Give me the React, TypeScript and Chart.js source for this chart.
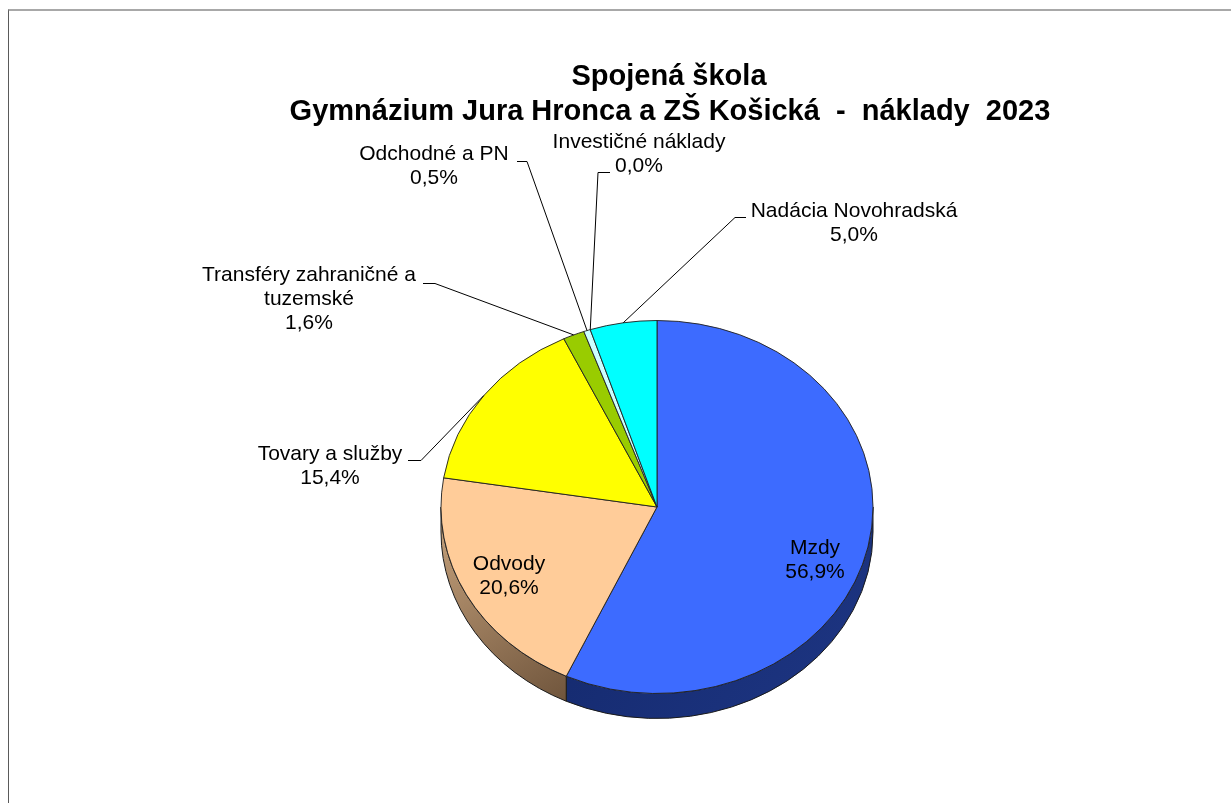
import React, { useEffect, useRef } from 'react';
import { Chart, registerables } from 'chart.js';

Chart.register(...registerables);

// ---------- data ----------
const titleLines = ['Spojená škola', 'Gymnázium Jura Hronca a ZŠ Košická  -  náklady  2023'];
const categories = [
  'Mzdy',
  'Odvody',
  'Tovary a služby',
  'Transféry zahraničné a tuzemské',
  'Odchodné a PN',
  'Investičné náklady',
  'Nadácia Novohradská',
];
const shares = [56.9, 20.6, 15.4, 1.6, 0.5, 0.0, 5.0];
const labelTextLines = [
  ['Mzdy'],
  ['Odvody'],
  ['Tovary a služby'],
  ['Transféry zahraničné a', 'tuzemské'],
  ['Odchodné a PN'],
  ['Investičné náklady'],
  ['Nadácia Novohradská'],
];

// ---------- styles / layout ----------
const topColors = ['#3D6BFF', '#FFCC99', '#FFFF00', '#99CC00', '#CCFFFF', '#FF8040', '#00FFFF'];
const sideColors = [
  ['#13286B', '#1E3684'],
  ['#C8A47E', '#6A5038'],
  ['#B3B300', '#B3B300'],
  ['#6B8F00', '#6B8F00'],
  ['#8FB3B3', '#8FB3B3'],
  ['#B35A2D', '#B35A2D'],
  ['#00B3B3', '#00B3B3'],
];
const TILT = 0.8634; // vertical squash of the pie face
const DEPTH = 25; // thickness of the pie
const LABEL_FONT = '21px "Liberation Sans", Arial, sans-serif';
const TITLE_FONT = 'bold 29px "Liberation Sans", Arial, sans-serif';
const LINE_H = 24;
// label placement: centre x, first baseline, leader stub [x1, x2, y], joint end of stub
type LabelPos = { cx: number; y: number; stub?: [number, number, number]; joint?: 'left' | 'right' };
const labelPos: LabelPos[] = [
  { cx: 815, y: 554 },
  { cx: 509, y: 570 },
  { cx: 330, y: 460, stub: [408, 421, 460], joint: 'right' },
  { cx: 309, y: 281, stub: [423, 435, 283], joint: 'right' },
  { cx: 434, y: 160, stub: [517, 527, 161], joint: 'right' },
  { cx: 639, y: 148, stub: [598, 610, 172], joint: 'left' },
  { cx: 854, y: 217, stub: [735, 746, 217], joint: 'left' },
];

const fmtPct = (v: number) => v.toFixed(1).replace('.', ',') + '%';

const pie3d = {
  id: 'pie3d',
  beforeDatasetsDraw(chart: any) {
    const ctx = chart.ctx as CanvasRenderingContext2D;
    const meta = chart.getDatasetMeta(0);
    const arcs = meta.data as any[];
    if (!arcs.length) return;
    const { x, y, outerRadius: r } = arcs[0].getProps(['x', 'y', 'outerRadius'], true);
    const ry = r * TILT;
    arcs.forEach((arc, i) => {
      const p = arc.getProps(['startAngle', 'endAngle'], true);
      const a = Math.max(p.startAngle, 0);
      const b = Math.min(p.endAngle, Math.PI);
      if (b <= a) return;
      const x1 = x + r * Math.cos(a);
      const x2 = x + r * Math.cos(b);
      const g = ctx.createLinearGradient(Math.min(x1, x2), y, Math.max(x1, x2), y + ry + DEPTH);
      const cols = sideColors[i];
      if (i === 1) {
        g.addColorStop(0, cols[0]);
        g.addColorStop(1, cols[1]);
      } else {
        g.addColorStop(0, cols[0]);
        g.addColorStop(1, cols[1]);
      }
      ctx.save();
      ctx.beginPath();
      ctx.ellipse(x, y, r, ry, 0, a, b, false);
      ctx.lineTo(x + r * Math.cos(b), y + ry * Math.sin(b) + DEPTH);
      ctx.ellipse(x, y + DEPTH, r, ry, 0, b, a, true);
      ctx.closePath();
      ctx.fillStyle = g;
      ctx.fill();
      ctx.lineWidth = 1;
      ctx.strokeStyle = '#1a1a1a';
      ctx.stroke();
      ctx.restore();
    });
    ctx.save();
    ctx.translate(x, y);
    ctx.scale(1, TILT);
    ctx.translate(-x, -y);
  },
  afterDatasetsDraw(chart: any) {
    const ctx = chart.ctx as CanvasRenderingContext2D;
    ctx.restore();
    const meta = chart.getDatasetMeta(0);
    const arcs = meta.data as any[];
    const values = chart.data.datasets[0].data as number[];

    ctx.save();
    ctx.fillStyle = '#000';
    ctx.strokeStyle = '#000';
    ctx.lineWidth = 1;
    ctx.textAlign = 'center';
    ctx.textBaseline = 'alphabetic';
    ctx.font = LABEL_FONT;
    arcs.forEach((arc, i) => {
      const p = arc.getProps(['x', 'y', 'startAngle', 'endAngle', 'outerRadius'], true);
      const lp = labelPos[i];
      const lines = [...labelTextLines[i], fmtPct(values[i])];
      lines.forEach((t, k) => ctx.fillText(t, lp.cx, lp.y + k * LINE_H));
      if (lp.stub) {
        const mid = (p.startAngle + p.endAngle) / 2;
        const ax = p.x + p.outerRadius * Math.cos(mid);
        const ay = p.y + p.outerRadius * TILT * Math.sin(mid);
        const [s1, s2, sy] = lp.stub;
        const jx = lp.joint === 'left' ? s1 : s2;
        ctx.beginPath();
        ctx.moveTo(s1, sy + 0.5);
        ctx.lineTo(s2, sy + 0.5);
        ctx.stroke();
        ctx.beginPath();
        ctx.moveTo(jx, sy + 0.5);
        ctx.lineTo(ax, ay);
        ctx.stroke();
      }
    });
    // title
    ctx.font = TITLE_FONT;
    ctx.fillText(titleLines[0], 669, 85);
    ctx.fillText(titleLines[1], 670, 120);
    ctx.restore();
  },
};

export default function App() {
  const ref = useRef<HTMLCanvasElement | null>(null);
  useEffect(() => {
    if (!ref.current) return;
    const chart = new Chart(ref.current, {
      type: 'pie',
      data: {
        labels: categories,
        datasets: [
          {
            data: shares,
            backgroundColor: topColors,
            borderColor: '#222222',
            borderWidth: 1,
          },
        ],
      },
      options: {
        responsive: false,
        animation: false,
        devicePixelRatio: 1,
        radius: 216,
        layout: { padding: { left: 100, right: 17, top: 240, bottom: 29 } },
        plugins: {
          legend: { display: false },
          title: { display: false },
          tooltip: { enabled: false },
        },
        events: [],
      } as any,
      plugins: [pie3d],
    });
    return () => chart.destroy();
  }, []);

  return (
    <div style={{ position: 'fixed', left: 0, top: 0, width: 1231, height: 803, background: '#fff', overflow: 'hidden' }}>
      <div
        style={{
          position: 'absolute',
          left: 8,
          top: 9,
          width: 1300,
          height: 900,
          borderTop: '2px solid #a8a8a8',
          borderLeft: '1px solid #5a5a5a',
        }}
      />
      <canvas ref={ref} width={1231} height={803} style={{ position: 'absolute', left: 0, top: 0, width: 1231, height: 803 }} />
    </div>
  );
}
